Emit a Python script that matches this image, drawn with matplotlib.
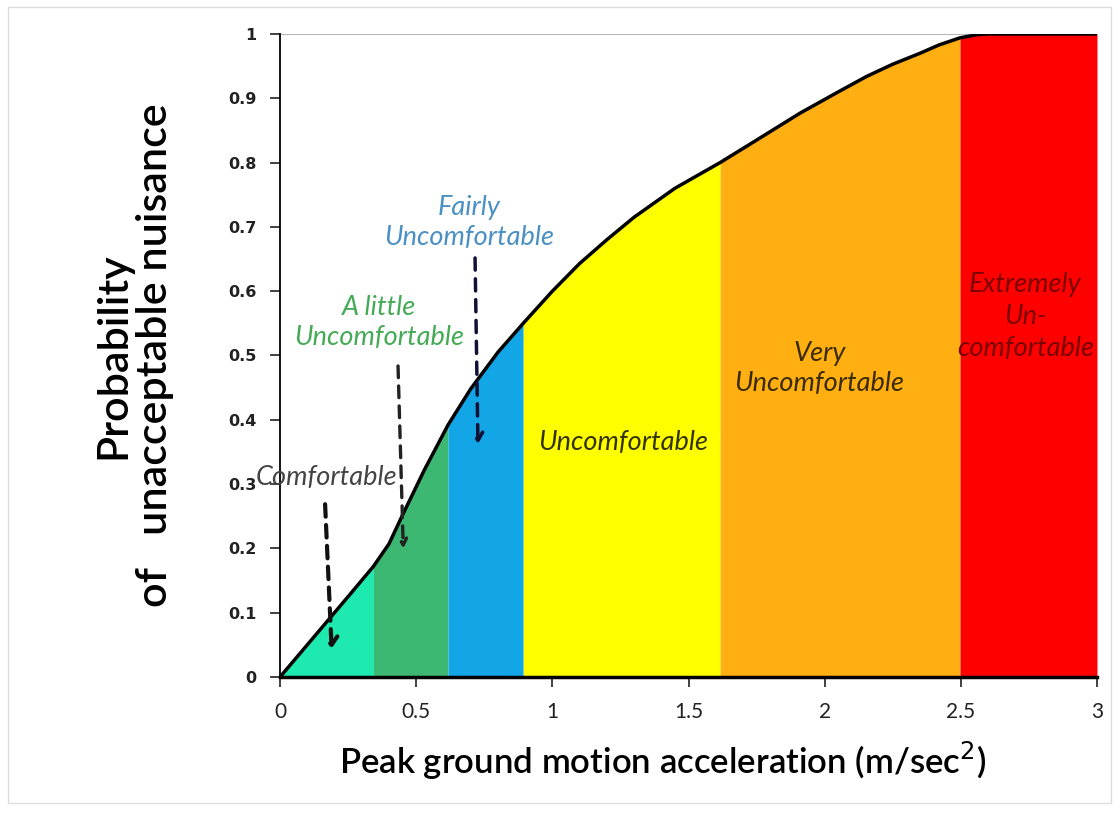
import numpy as np
import matplotlib.pyplot as plt
from matplotlib.patches import Rectangle

# curve
accel = [0.0, 0.17, 0.25, 0.343, 0.40, 0.45, 0.53, 0.617, 0.70, 0.80,
         0.893, 1.0, 1.1, 1.2, 1.3, 1.45, 1.616, 1.75, 1.91, 2.05,
         2.154, 2.25, 2.35, 2.42, 2.497, 2.56, 2.6, 3.0]
prob = [0.0, 0.085, 0.125, 0.172, 0.207, 0.252, 0.322, 0.392, 0.448, 0.505,
        0.55, 0.60, 0.643, 0.68, 0.715, 0.76, 0.80, 0.835, 0.877, 0.91,
        0.934, 0.953, 0.97, 0.983, 0.994, 0.999, 1.0, 1.0]

# comfort bands
band_edges = [0.0, 0.343, 0.617, 0.893, 1.616, 2.497, 3.0]
band_colors = ['#1EEAB0', '#3DB873', '#12A6E6', '#FFFF00', '#FFAF12', '#FF0000']

x_ticks = [0, 0.5, 1, 1.5, 2, 2.5, 3]
x_ticklabels = ['0', '0.5', '1', '1.5', '2', '2.5', '3']
y_ticks = [0, 0.1, 0.2, 0.3, 0.4, 0.5, 0.6, 0.7, 0.8, 0.9, 1]
y_ticklabels = ['0', '0.1', '0.2', '0.3', '0.4', '0.5', '0.6', '0.7', '0.8', '0.9', '1']

x = np.array(accel)
y = np.array(prob)

fig = plt.figure(figsize=(11.17, 8.13), dpi=100)
ax = fig.add_axes([0.2507, 0.1673, 0.7314, 0.7909])

for lo, hi, c in zip(band_edges[:-1], band_edges[1:], band_colors):
    m = (x >= lo) & (x <= hi)
    ax.fill_between(x[m], 0, y[m], color=c, lw=0)

ax.plot(x, y, color='black', lw=2.5, solid_capstyle='round', solid_joinstyle='round')
ax.axhline(1.0, color='#b8b8b8', lw=1.5, zorder=0)

ax.set_xlim(0, 3)
ax.set_ylim(0, 1)
ax.set_xticks(x_ticks)
ax.set_xticklabels(x_ticklabels, fontsize=15, family='Lato', color='#222222')
ax.set_yticks(y_ticks)
ax.set_yticklabels(y_ticklabels, fontsize=11.5, fontweight='bold', color='#222222')
ax.tick_params(axis='both', length=7, width=1.3, color='#333333')
ax.tick_params(axis='x', pad=11)
ax.tick_params(axis='y', pad=10)
for s in ['top', 'right']:
    ax.spines[s].set_visible(False)
ax.spines['left'].set_linewidth(1.3)
ax.spines['bottom'].set_linewidth(2.5)

ax.set_xlabel('Peak ground motion acceleration (m/sec$^2$)', fontsize=25,
              family='Lato', fontweight='semibold')
ax.xaxis.set_label_coords(0.468, -0.097)
ax.set_ylabel('Probability\nof   unacceptable nuisance', fontsize=31,
              family='Lato', fontweight='semibold', linespacing=1.1)
ax.yaxis.set_label_coords(-0.13, 0.5)

# labels for the bands
lab = dict(fontsize=19.5, family='Lato', style='italic', ha='center', va='center')
ax.text(0.694, 0.707, 'Fairly\nUncomfortable', color='#4A90C4', linespacing=1.25, **lab)
ax.text(0.364, 0.551, 'A little\nUncomfortable', color='#44AA55', linespacing=1.25, **lab)
ax.text(0.172, 0.311, 'Comfortable', color='#444444', **lab)
ax.text(1.26, 0.364, 'Uncomfortable', color='#333300', **lab)
ax.text(1.98, 0.479, 'Very\nUncomfortable', color='#3a2a00', linespacing=1.25, **lab)
ax.text(2.737, 0.56, 'Extremely\nUn-\ncomfortable', color='#7a0000', linespacing=1.35, **lab)

# dashed arrows
ax.annotate('', xy=(0.727, 0.358), xytext=(0.716, 0.656),
            arrowprops=dict(arrowstyle='->,head_length=0.6,head_width=0.35',
                            ls=(0, (3.5, 2.5)), lw=2.5, color='#111133'))
ax.annotate('', xy=(0.453, 0.195), xytext=(0.433, 0.488),
            arrowprops=dict(arrowstyle='->,head_length=0.5,head_width=0.25',
                            ls=(0, (3.5, 2.5)), lw=2.4, color='#222222'))
ax.annotate('', xy=(0.19, 0.04), xytext=(0.165, 0.273),
            arrowprops=dict(arrowstyle='->,head_length=0.6,head_width=0.45',
                            ls=(0, (3, 2)), lw=3, color='#111111'))

fig.patches.append(Rectangle((0.007, 0.012), 0.988, 0.98, transform=fig.transFigure,
                             fill=False, edgecolor='#dddddd', lw=1))

fig.savefig('out.png', dpi=100)
